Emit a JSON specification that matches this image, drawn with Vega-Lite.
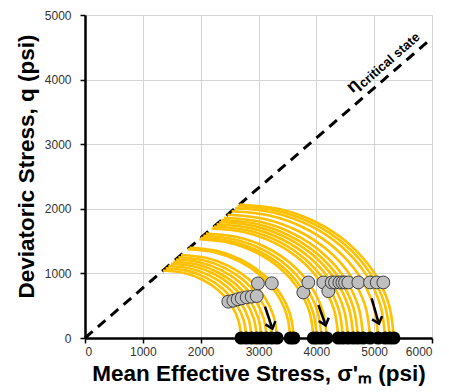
{
  "$schema": "https://vega.github.io/schema/vega-lite/v6.json",
  "autosize": {"type": "none"},
  "padding": {"left": 85, "top": 15, "right": 17, "bottom": 54},
  "width": 347,
  "height": 323,
  "background": "white",
  "config": {
    "view": {"stroke": null},
    "font": "Liberation Sans",
    "axis": {
      "grid": true, "gridColor": "#d4d4d4", "gridWidth": 1,
      "domainColor": "#000000", "domainWidth": 2.5,
      "tickColor": "#000000", "tickWidth": 1.5, "tickSize": 5,
      "labelColor": "#333333", "labelFont": "Liberation Sans", "labelFontSize": 12,
      "titleFont": "Liberation Sans", "titleFontSize": 22.5, "titleFontWeight": "bold", "titleColor": "#000000"
    }
  },
  "datasets": {
    "csl": [{"p": 0, "q": 0, "p2": 6000, "q2": 4644}],
    "arcs": [
      {"a":1,"i":0,"p":2700,"q":0},{"a":1,"i":1,"p":2654,"q":270},{"a":1,"i":2,"p":2519,"q":522},{"a":1,"i":3,"p":2305,"q":739},{"a":1,"i":4,"p":2025,"q":905},{"a":1,"i":5,"p":1699,"q":1009},{"a":1,"i":6,"p":1350,"q":1045},
      {"a":2,"i":0,"p":2790,"q":0},{"a":2,"i":1,"p":2742,"q":279},{"a":2,"i":2,"p":2603,"q":540},{"a":2,"i":3,"p":2381,"q":763},{"a":2,"i":4,"p":2092,"q":935},{"a":2,"i":5,"p":1756,"q":1043},{"a":2,"i":6,"p":1395,"q":1080},
      {"a":3,"i":0,"p":2880,"q":0},{"a":3,"i":1,"p":2831,"q":288},{"a":3,"i":2,"p":2687,"q":557},{"a":3,"i":3,"p":2458,"q":788},{"a":3,"i":4,"p":2160,"q":965},{"a":3,"i":5,"p":1813,"q":1077},{"a":3,"i":6,"p":1440,"q":1115},
      {"a":4,"i":0,"p":2970,"q":0},{"a":4,"i":1,"p":2919,"q":297},{"a":4,"i":2,"p":2771,"q":575},{"a":4,"i":3,"p":2535,"q":813},{"a":4,"i":4,"p":2227,"q":995},{"a":4,"i":5,"p":1869,"q":1110},{"a":4,"i":6,"p":1485,"q":1149},
      {"a":5,"i":0,"p":3050,"q":0},{"a":5,"i":1,"p":2998,"q":305},{"a":5,"i":2,"p":2846,"q":590},{"a":5,"i":3,"p":2603,"q":835},{"a":5,"i":4,"p":2287,"q":1022},{"a":5,"i":5,"p":1920,"q":1140},{"a":5,"i":6,"p":1525,"q":1180},
      {"a":6,"i":0,"p":3140,"q":0},{"a":6,"i":1,"p":3086,"q":314},{"a":6,"i":2,"p":2930,"q":608},{"a":6,"i":3,"p":2680,"q":859},{"a":6,"i":4,"p":2355,"q":1052},{"a":6,"i":5,"p":1976,"q":1174},{"a":6,"i":6,"p":1570,"q":1215},
      {"a":7,"i":0,"p":3230,"q":0},{"a":7,"i":1,"p":3175,"q":323},{"a":7,"i":2,"p":3014,"q":625},{"a":7,"i":3,"p":2757,"q":884},{"a":7,"i":4,"p":2422,"q":1082},{"a":7,"i":5,"p":2033,"q":1207},{"a":7,"i":6,"p":1615,"q":1250},
      {"a":8,"i":0,"p":3320,"q":0},{"a":8,"i":1,"p":3263,"q":332},{"a":8,"i":2,"p":3098,"q":642},{"a":8,"i":3,"p":2834,"q":908},{"a":8,"i":4,"p":2490,"q":1113},{"a":8,"i":5,"p":2090,"q":1241},{"a":8,"i":6,"p":1660,"q":1285},
      {"a":9,"i":0,"p":3550,"q":0},{"a":9,"i":1,"p":3489,"q":356},{"a":9,"i":2,"p":3312,"q":687},{"a":9,"i":3,"p":3030,"q":971},{"a":9,"i":4,"p":2662,"q":1190},{"a":9,"i":5,"p":2234,"q":1327},{"a":9,"i":6,"p":1775,"q":1374},
      {"a":10,"i":0,"p":3610,"q":0},{"a":10,"i":1,"p":3548,"q":362},{"a":10,"i":2,"p":3368,"q":698},{"a":10,"i":3,"p":3081,"q":988},{"a":10,"i":4,"p":2707,"q":1210},{"a":10,"i":5,"p":2272,"q":1349},{"a":10,"i":6,"p":1805,"q":1397},
      {"a":11,"i":0,"p":3950,"q":0},{"a":11,"i":1,"p":3883,"q":396},{"a":11,"i":2,"p":3685,"q":764},{"a":11,"i":3,"p":3371,"q":1081},{"a":11,"i":4,"p":2962,"q":1324},{"a":11,"i":5,"p":2486,"q":1476},{"a":11,"i":6,"p":1975,"q":1529},
      {"a":12,"i":0,"p":4010,"q":0},{"a":12,"i":1,"p":3942,"q":402},{"a":12,"i":2,"p":3741,"q":776},{"a":12,"i":3,"p":3423,"q":1097},{"a":12,"i":4,"p":3007,"q":1344},{"a":12,"i":5,"p":2524,"q":1499},{"a":12,"i":6,"p":2005,"q":1552},
      {"a":13,"i":0,"p":4090,"q":0},{"a":13,"i":1,"p":4020,"q":410},{"a":13,"i":2,"p":3816,"q":791},{"a":13,"i":3,"p":3491,"q":1119},{"a":13,"i":4,"p":3067,"q":1371},{"a":13,"i":5,"p":2574,"q":1529},{"a":13,"i":6,"p":2045,"q":1583},
      {"a":14,"i":0,"p":4180,"q":0},{"a":14,"i":1,"p":4109,"q":419},{"a":14,"i":2,"p":3900,"q":809},{"a":14,"i":3,"p":3568,"q":1144},{"a":14,"i":4,"p":3135,"q":1401},{"a":14,"i":5,"p":2631,"q":1562},{"a":14,"i":6,"p":2090,"q":1618},
      {"a":15,"i":0,"p":4380,"q":0},{"a":15,"i":1,"p":4305,"q":439},{"a":15,"i":2,"p":4087,"q":847},{"a":15,"i":3,"p":3738,"q":1199},{"a":15,"i":4,"p":3285,"q":1468},{"a":15,"i":5,"p":2757,"q":1637},{"a":15,"i":6,"p":2190,"q":1695},
      {"a":16,"i":0,"p":4460,"q":0},{"a":16,"i":1,"p":4384,"q":447},{"a":16,"i":2,"p":4161,"q":863},{"a":16,"i":3,"p":3807,"q":1220},{"a":16,"i":4,"p":3345,"q":1495},{"a":16,"i":5,"p":2807,"q":1667},{"a":16,"i":6,"p":2230,"q":1726},
      {"a":17,"i":0,"p":4550,"q":0},{"a":17,"i":1,"p":4472,"q":456},{"a":17,"i":2,"p":4245,"q":880},{"a":17,"i":3,"p":3884,"q":1245},{"a":17,"i":4,"p":3412,"q":1525},{"a":17,"i":5,"p":2864,"q":1701},{"a":17,"i":6,"p":2275,"q":1761},
      {"a":18,"i":0,"p":4640,"q":0},{"a":18,"i":1,"p":4561,"q":465},{"a":18,"i":2,"p":4329,"q":898},{"a":18,"i":3,"p":3960,"q":1270},{"a":18,"i":4,"p":3480,"q":1555},{"a":18,"i":5,"p":2920,"q":1734},{"a":18,"i":6,"p":2320,"q":1796},
      {"a":19,"i":0,"p":4720,"q":0},{"a":19,"i":1,"p":4640,"q":473},{"a":19,"i":2,"p":4404,"q":913},{"a":19,"i":3,"p":4029,"q":1292},{"a":19,"i":4,"p":3540,"q":1582},{"a":19,"i":5,"p":2971,"q":1764},{"a":19,"i":6,"p":2360,"q":1827},
      {"a":20,"i":0,"p":4810,"q":0},{"a":20,"i":1,"p":4728,"q":482},{"a":20,"i":2,"p":4488,"q":931},{"a":20,"i":3,"p":4106,"q":1316},{"a":20,"i":4,"p":3607,"q":1612},{"a":20,"i":5,"p":3027,"q":1798},{"a":20,"i":6,"p":2405,"q":1861},
      {"a":21,"i":0,"p":4930,"q":0},{"a":21,"i":1,"p":4846,"q":494},{"a":21,"i":2,"p":4600,"q":954},{"a":21,"i":3,"p":4208,"q":1349},{"a":21,"i":4,"p":3697,"q":1652},{"a":21,"i":5,"p":3103,"q":1843},{"a":21,"i":6,"p":2465,"q":1908},
      {"a":22,"i":0,"p":5070,"q":0},{"a":22,"i":1,"p":4984,"q":508},{"a":22,"i":2,"p":4730,"q":981},{"a":22,"i":3,"p":4327,"q":1387},{"a":22,"i":4,"p":3802,"q":1699},{"a":22,"i":5,"p":3191,"q":1895},{"a":22,"i":6,"p":2535,"q":1962},
      {"a":23,"i":0,"p":5190,"q":0},{"a":23,"i":1,"p":5102,"q":520},{"a":23,"i":2,"p":4842,"q":1004},{"a":23,"i":3,"p":4430,"q":1420},{"a":23,"i":4,"p":3892,"q":1739},{"a":23,"i":5,"p":3267,"q":1940},{"a":23,"i":6,"p":2595,"q":2008},
      {"a":24,"i":0,"p":5270,"q":0},{"a":24,"i":1,"p":5180,"q":528},{"a":24,"i":2,"p":4917,"q":1020},{"a":24,"i":3,"p":4498,"q":1442},{"a":24,"i":4,"p":3952,"q":1766},{"a":24,"i":5,"p":3317,"q":1970},{"a":24,"i":6,"p":2635,"q":2040},
      {"a":25,"i":0,"p":5340,"q":0},{"a":25,"i":1,"p":5249,"q":535},{"a":25,"i":2,"p":4982,"q":1033},{"a":25,"i":3,"p":4558,"q":1461},{"a":25,"i":4,"p":4005,"q":1790},{"a":25,"i":5,"p":3361,"q":1996},{"a":25,"i":6,"p":2670,"q":2067}
    ],
    "black": [
      {"p":2700,"q":0},{"p":2790,"q":0},{"p":2880,"q":0},{"p":2970,"q":0},{"p":3050,"q":0},{"p":3140,"q":0},{"p":3230,"q":0},{"p":3320,"q":0},
      {"p":3550,"q":0},{"p":3610,"q":0},{"p":3950,"q":0},{"p":4010,"q":0},{"p":4090,"q":0},{"p":4180,"q":0},
      {"p":4380,"q":0},{"p":4460,"q":0},{"p":4550,"q":0},{"p":4640,"q":0},{"p":4720,"q":0},{"p":4810,"q":0},{"p":4930,"q":0},
      {"p":5070,"q":0},{"p":5190,"q":0},{"p":5270,"q":0},{"p":5340,"q":0}
    ],
    "gray": [
      {"p":2478,"q":562},{"p":2565,"q":577},{"p":2640,"q":599},{"p":2709,"q":614},{"p":2796,"q":630},{"p":2882,"q":640},{"p":2969,"q":650},
      {"p":2990,"q":845},{"p":3230,"q":847},
      {"p":3775,"q":705},{"p":3862,"q":860},{"p":4121,"q":860},{"p":4208,"q":725},{"p":4265,"q":860},{"p":4323,"q":860},{"p":4398,"q":860},
      {"p":4450,"q":860},{"p":4496,"q":860},{"p":4553,"q":860},{"p":4726,"q":860},{"p":4928,"q":860},{"p":5044,"q":860},{"p":5159,"q":860}
    ],
    "arrows": [
      {"p":3113,"q":485,"p2":3228,"q2":175},
      {"p":4035,"q":511,"p2":4150,"q2":227},
      {"p":4957,"q":614,"p2":5072,"q2":252}
    ],
    "heads": [
      {"p":3223,"q":190},{"p":4145,"q":242},{"p":5067,"q":267}
    ],
    "eta": [{"p":4640,"q":3900,"t":"η"}],
    "cs": [{"p":5265,"q":4300,"t":"critical state"}]
  },
  "encoding": {
    "x": {
      "field": "p", "type": "quantitative",
      "scale": {"domain": [0, 6000], "nice": false, "zero": true},
      "axis": {"values": [0,1000,2000,3000,4000,5000,6000], "format": "d", "labelPadding": 3,
               "title": "Mean Effective Stress, σ'ₘ (psi)", "titleY": 42, "titleBaseline": "alphabetic"}
    },
    "y": {
      "field": "q", "type": "quantitative",
      "scale": {"domain": [0, 5000], "nice": false},
      "axis": {"values": [0,1000,2000,3000,4000,5000], "format": "d", "labelPadding": 9,
               "title": "Deviatoric Stress, q (psi)", "titleX": -52, "titleY": 151, "titleAngle": 270,
               "titleAlign": "center", "titleBaseline": "alphabetic"}
    }
  },
  "layer": [
    {
      "data": {"name": "csl"},
      "mark": {"type": "rule", "color": "#000000", "strokeWidth": 3, "strokeDash": [10, 7]},
      "encoding": {"x2": {"field": "p2"}, "y2": {"field": "q2"}}
    },
    {
      "data": {"name": "arcs"},
      "mark": {"type": "line", "color": "#FFC000", "strokeWidth": 2.6, "interpolate": "cardinal"},
      "encoding": {"detail": {"field": "a", "type": "nominal"}, "order": {"field": "i", "type": "quantitative"}}
    },
    {
      "data": {"name": "black"},
      "mark": {"type": "point", "shape": "circle", "filled": true, "color": "#000000", "size": 175, "opacity": 1}
    },
    {
      "data": {"name": "gray"},
      "mark": {"type": "point", "shape": "circle", "filled": true, "fill": "#BFBFBF", "stroke": "#404040", "strokeWidth": 1, "size": 165, "opacity": 1}
    },
    {
      "data": {"name": "arrows"},
      "mark": {"type": "rule", "color": "#000000", "strokeWidth": 2.5},
      "encoding": {"x2": {"field": "p2"}, "y2": {"field": "q2"}}
    },
    {
      "data": {"name": "heads"},
      "mark": {"type": "point", "shape": "M -1 -0.6 L 0 0.6 L 1 -0.6", "filled": false, "stroke": "#000000", "strokeWidth": 2.5, "size": 110, "angle": 342, "opacity": 1, "strokeCap": "butt", "strokeJoin": "miter"}
    },
    {
      "data": {"name": "eta"},
      "mark": {"type": "text", "font": "Liberation Sans", "fontSize": 18, "fontWeight": "bold", "angle": 319, "align": "center", "baseline": "middle", "color": "#000000"},
      "encoding": {"text": {"field": "t"}}
    },
    {
      "data": {"name": "cs"},
      "mark": {"type": "text", "font": "Liberation Sans", "fontSize": 13, "fontWeight": "bold", "angle": 319, "align": "center", "baseline": "middle", "color": "#000000"},
      "encoding": {"text": {"field": "t"}}
    }
  ]
}
